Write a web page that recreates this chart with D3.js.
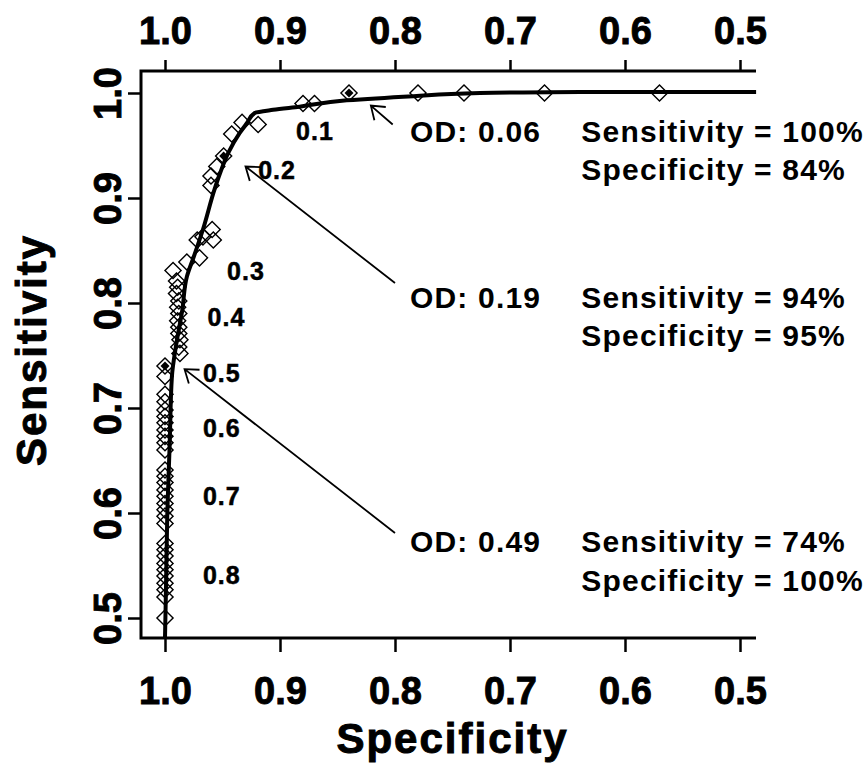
<!DOCTYPE html>
<html>
<head>
<meta charset="utf-8">
<script src="https://cdn.jsdelivr.net/npm/d3@7"></script>
<style>
  body { margin: 0; background: #fff; }
  text { font-family: "Liberation Sans", Arial, Helvetica, sans-serif; font-weight: bold; fill: #000; }
</style>
</head>
<body>
<div id="root"></div>
<script>
// ROC curve: sensitivity vs specificity with OD cut-off annotations
"use strict";

/* ************************************* Data ******************************** */

const specificity = [
    0.57, 0.67, 0.74, 0.78, 0.84, 0.87, 0.88,
    0.919, 0.933, 0.942, 0.949, 0.955, 0.96, 0.96,
    0.959, 0.967, 0.958, 0.972, 0.970, 0.981, 0.993,
    0.990, 0.989, 0.990, 0.988, 0.989, 0.988, 0.989, 0.988, 0.988, 0.987, 0.988, 0.987,
    1.0, 1.0,
    1.0, 1.0, 1.0, 1.0, 1.0, 1.0, 1.0, 1.0, 1.0,
    1.0, 1.0, 1.0, 1.0, 1.0, 1.0, 1.0, 1.0, 1.0,
    1.0, 1.0, 1.0, 1.0, 1.0, 1.0, 1.0, 1.0, 1.0,
    1.0
];
const sensitivity = [
    1.0, 1.0, 1.0, 1.0, 1.0, 0.99, 0.99,
    0.970, 0.972, 0.961, 0.940, 0.930, 0.921, 0.912,
    0.870, 0.863, 0.860, 0.860, 0.843, 0.839, 0.831,
    0.821, 0.815, 0.809, 0.802, 0.796, 0.790, 0.783, 0.777, 0.771, 0.765, 0.758, 0.752,
    0.740, 0.730,
    0.713, 0.706, 0.698, 0.692, 0.686, 0.679, 0.673, 0.667, 0.660,
    0.641, 0.635, 0.629, 0.622, 0.616, 0.609, 0.603, 0.597, 0.590,
    0.571, 0.565, 0.559, 0.552, 0.546, 0.540, 0.533, 0.527, 0.520,
    0.500
];
// Points drawn as filled diamonds (the three annotated cut-offs)
const filledSpec = [0.84, 0.949, 1.0];
const filledSens = [1.0, 0.940, 0.740];

// Fitted ROC curve
const curveSpec = [1.0, 0.999, 0.998, 0.996, 0.994, 0.990, 0.985, 0.981, 0.975, 0.967, 0.957,
    0.952, 0.945, 0.935, 0.929, 0.922, 0.906, 0.883, 0.842, 0.784, 0.726, 0.639, 0.486];
const curveSens = [0.481, 0.536, 0.600, 0.663, 0.730, 0.762, 0.793, 0.825, 0.844, 0.870, 0.908,
    0.924, 0.943, 0.962, 0.971, 0.981, 0.984, 0.987, 0.993, 0.997, 1.0, 1.001, 1.001];

// Threshold (OD) labels along the curve
const odTicks = ["0.1", "0.2", "0.3", "0.4", "0.5", "0.6", "0.7", "0.8"];
const odTickSpec = [0.886, 0.919, 0.946, 0.963, 0.967, 0.967, 0.967, 0.967];
const odTickSens = [0.955, 0.918, 0.822, 0.778, 0.725, 0.672, 0.608, 0.532];

// Cut-off annotations
const cutLabels = ["OD: 0.06", "OD: 0.19", "OD: 0.49"];
const cutSensText = ["Sensitivity = 100%", "Sensitivity = 94%", "Sensitivity = 74%"];
const cutSpecText = ["Specificity = 84%", "Specificity = 95%", "Specificity = 100%"];
const cutLine1Sens = [0.953, 0.795, 0.563];
const cutLine2Sens = [0.917, 0.759, 0.526];
const arrowTipSpec = [0.821, 0.930, 0.983];
const arrowTipSens = [0.988, 0.930, 0.737];
const arrowTailSpec = [0.802, 0.800, 0.800];
const arrowTailSens = [0.970, 0.819, 0.581];

const tickValues = [1.0, 0.9, 0.8, 0.7, 0.6, 0.5];

/* ************************************* Set up ******************************** */

const width = 867;
const height = 763;

const plot = { left: 141, right: 756, top: 71, bottom: 638 };

const xScale = d3.scaleLinear().domain([1.0, 0.5]).range([165, 740]);
const yScale = d3.scaleLinear().domain([1.0, 0.5]).range([93, 618]);

let svg = d3.select('#root')
    .append('svg')
    .attr('width', width)
    .attr('height', height);

svg.append('rect').attr('width', width).attr('height', height).attr('fill', '#fff');

/* ************************************* Axes ******************************** */

const fmt = d3.format('.1f');

let xTop = svg.append('g')
    .attr('transform', `translate(0,${plot.top})`)
    .call(d3.axisTop(xScale).tickValues(tickValues).tickFormat(fmt).tickSize(11).tickSizeOuter(0).tickPadding(16));

let xBottom = svg.append('g')
    .attr('transform', `translate(0,${plot.bottom})`)
    .call(d3.axisBottom(xScale).tickValues(tickValues).tickFormat(fmt).tickSize(14).tickSizeOuter(0).tickPadding(25));

let yLeft = svg.append('g')
    .attr('transform', `translate(${plot.left},0)`)
    .call(d3.axisLeft(yScale).tickValues(tickValues).tickFormat(fmt).tickSize(13).tickSizeOuter(0));

// Y labels are rotated, baseline towards the plot
yLeft.selectAll('.tick text')
    .attr('x', null).attr('dy', null)
    .attr('transform', 'translate(-20,0) rotate(-90)')
    .attr('text-anchor', 'middle');

[xTop, xBottom, yLeft].forEach((g) => {
    g.select('.domain').remove();
    g.selectAll('.tick line').attr('stroke', '#000').attr('stroke-width', 2.5);
    g.selectAll('.tick text')
        .attr('fill', '#000')
        .style('font-size', '38px')
        .style('font-family', '"Liberation Sans", Arial, sans-serif')
        .style('font-weight', 'bold')
        .attr('stroke', '#000').attr('stroke-width', 0.9);
});

// Box: left, top and bottom lines (no right edge)
svg.append('path')
    .attr('d', `M${plot.right},${plot.top}H${plot.left}V${plot.bottom}H${plot.right}`)
    .attr('fill', 'none')
    .attr('stroke', '#000')
    .attr('stroke-width', 3);

// Axis titles
svg.append('text')
    .attr('x', (plot.left + plot.right) / 2 + 4)
    .attr('y', 753)
    .attr('text-anchor', 'middle')
    .style('font-size', '42px')
    .style('letter-spacing', '2px')
    .attr('stroke', '#000').attr('stroke-width', 1)
    .text('Specificity');

svg.append('text')
    .attr('transform', 'translate(46,350) rotate(-90)')
    .attr('text-anchor', 'middle')
    .style('font-size', '42px')
    .style('letter-spacing', '2px')
    .attr('stroke', '#000').attr('stroke-width', 1)
    .text('Sensitivity');

/* ************************************* Curve and points ******************************** */

const curveData = curveSpec.map((s, i) => ({ x: s, y: curveSens[i] }));
svg.append('path')
    .datum(curveData)
    .attr('d', d3.line().x((d) => xScale(d.x)).y((d) => yScale(d.y)).curve(d3.curveMonotoneY))
    .attr('fill', 'none')
    .attr('stroke', '#000')
    .attr('stroke-width', 4)
    .attr('stroke-linejoin', 'round');

const points = specificity.map((s, i) => ({ x: s, y: sensitivity[i] }));
const diamond = d3.symbol().type(d3.symbolSquare).size(130);

svg.append('g').selectAll('path')
    .data(points)
    .enter().append('path')
    .attr('d', diamond)
    .attr('transform', (d) => `translate(${xScale(d.x)},${yScale(d.y)}) rotate(45)`)
    .attr('fill', 'none')
    .attr('stroke', '#000')
    .attr('stroke-width', 1.4);

const filled = filledSpec.map((s, i) => ({ x: s, y: filledSens[i] }));
svg.append('g').selectAll('path')
    .data(filled)
    .enter().append('path')
    .attr('d', d3.symbol().type(d3.symbolSquare).size(40))
    .attr('transform', (d) => `translate(${xScale(d.x)},${yScale(d.y)}) rotate(45)`)
    .attr('fill', '#000');

/* ************************************* Annotations ******************************** */

svg.append('g').selectAll('text')
    .data(odTicks)
    .enter().append('text')
    .attr('x', (d, i) => xScale(odTickSpec[i]))
    .attr('y', (d, i) => yScale(odTickSens[i]))
    .style('font-size', '25px')
    .style('letter-spacing', '1px')
    .attr('stroke', '#000').attr('stroke-width', 0.5)
    .text((d) => d);

// Arrows: shaft plus two short arms at the tip
const arrows = arrowTipSpec.map((s, i) => {
    const tx = xScale(s), ty = yScale(arrowTipSens[i]);
    const ex = xScale(arrowTailSpec[i]), ey = yScale(arrowTailSens[i]);
    const ang = Math.atan2(ey - ty, ex - tx);
    const len = 15, spread = 0.62;
    const a1 = [tx + len * Math.cos(ang - spread), ty + len * Math.sin(ang - spread)];
    const a2 = [tx + len * Math.cos(ang + spread), ty + len * Math.sin(ang + spread)];
    return `M${ex},${ey}L${tx},${ty}M${a1[0]},${a1[1]}L${tx},${ty}L${a2[0]},${a2[1]}`;
});

svg.append('g').selectAll('path')
    .data(arrows)
    .enter().append('path')
    .attr('d', (d) => d)
    .attr('fill', 'none')
    .attr('stroke', '#000')
    .attr('stroke-width', 1.8);

const odX = xScale(0.787);
const statX = xScale(0.638);

let notes = svg.append('g')
    .style('font-size', '30px')
    .style('letter-spacing', '1.2px');

cutLabels.forEach((lab, i) => {
    notes.append('text').attr('x', odX).attr('y', yScale(cutLine1Sens[i])).text(lab);
    notes.append('text').attr('x', statX).attr('y', yScale(cutLine1Sens[i])).text(cutSensText[i]);
    notes.append('text').attr('x', statX).attr('y', yScale(cutLine2Sens[i])).text(cutSpecText[i]);
});
</script>
</body>
</html>
